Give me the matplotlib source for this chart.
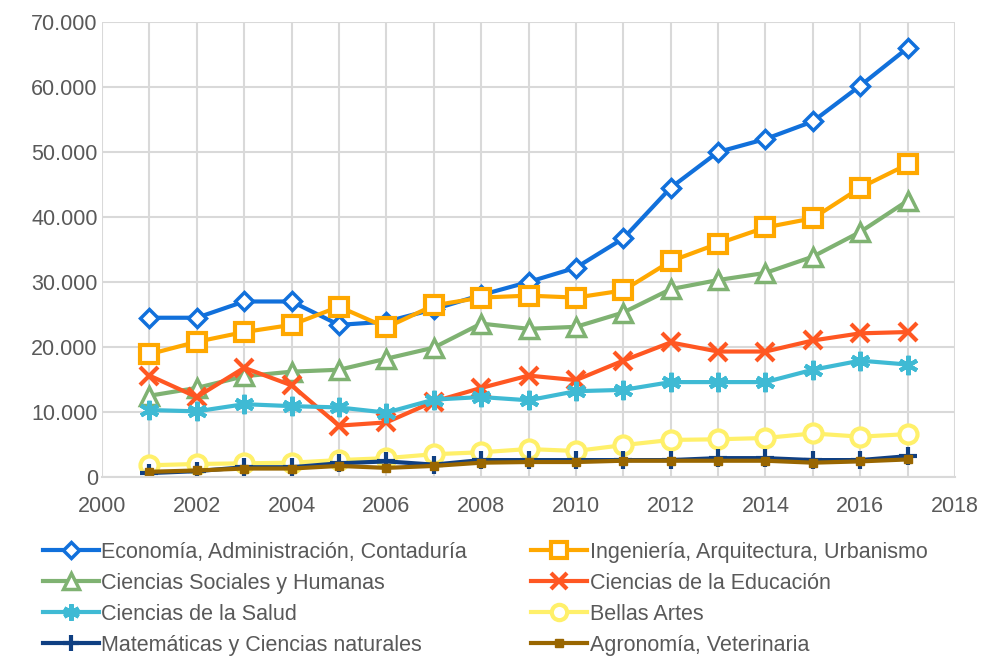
import matplotlib.pyplot as plt
from matplotlib.ticker import FuncFormatter, MultipleLocator

plt.rcParams['font.family'] = ['Liberation Sans', 'DejaVu Sans']

years = list(range(2001, 2018))

economia = [24500, 24500, 27000, 27000, 23400, 23900, 25800, 28000, 30000, 32200,
            36700, 44500, 50000, 52000, 54700, 60200, 66000]
ingenieria = [18900, 20800, 22300, 23400, 26200, 23000, 26400, 27600, 27900, 27600,
              28700, 33200, 35900, 38400, 39800, 44500, 48100]
sociales = [12500, 13700, 15500, 16200, 16500, 18200, 19900, 23600, 22800, 23100,
            25300, 28900, 30300, 31400, 33900, 37700, 42500]
educacion = [15600, 12300, 16800, 14100, 7900, 8400, 11600, 13700, 15600, 14900,
             17900, 20700, 19300, 19300, 21000, 22100, 22300]
salud = [10300, 10100, 11200, 10900, 10700, 9900, 11900, 12300, 11800, 13200,
         13400, 14600, 14600, 14600, 16500, 17900, 17300]
bellas = [1800, 2000, 2100, 2200, 2600, 2900, 3500, 3800, 4300, 4000,
          4900, 5700, 5800, 6000, 6700, 6200, 6600]
matematicas = [600, 900, 1500, 1500, 2100, 2400, 1900, 2600, 2600, 2600,
               2600, 2600, 2900, 2900, 2600, 2600, 3200]
agronomia = [800, 1000, 1300, 1300, 1700, 1400, 1700, 2200, 2300, 2300,
             2500, 2500, 2500, 2500, 2200, 2400, 2700]

fig = plt.figure(figsize=(9.81, 6.57), dpi=100)
ax = fig.add_axes([0.104, 0.274, 0.8695, 0.6925])

lw = 3
h = {}
h['eco'], = ax.plot(years, economia, color='#1170DB', lw=lw, marker='D', ms=9,
                    mfc='white', mew=2.5, label='Economía, Administración, Contaduría')
h['ing'], = ax.plot(years, ingenieria, color='#FFA800', lw=lw, marker='s', ms=13,
                    mfc='white', mew=3, label='Ingeniería, Arquitectura, Urbanismo')
h['soc'], = ax.plot(years, sociales, color='#7FB272', lw=lw, marker='^', ms=13,
                    mfc='white', mew=2.5, label='Ciencias Sociales y Humanas')
h['edu'], = ax.plot(years, educacion, color='#FF5722', lw=lw, marker='x', ms=13,
                    mew=3, label='Ciencias de la Educación')
h['sal'], = ax.plot(years, salud, color='#3FBAD4', lw=lw, marker=(6, 2, 0), ms=14,
                    mew=3, label='Ciencias de la Salud')
h['bel'], = ax.plot(years, bellas, color='#FFF06A', lw=lw, marker='o', ms=13,
                    mfc='white', mew=3, label='Bellas Artes')
h['mat'], = ax.plot(years, matematicas, color='#0F3F82', lw=lw, marker='+', ms=13,
                    mew=3, label='Matemáticas y Ciencias naturales')
h['agr'], = ax.plot(years, agronomia, color='#996600', lw=lw, marker='s', ms=6,
                    label='Agronomía, Veterinaria')

ax.set_xlim(2000, 2018)
ax.set_ylim(0, 70000)
ax.xaxis.set_major_locator(MultipleLocator(2))
ax.xaxis.set_minor_locator(MultipleLocator(1))
ax.yaxis.set_major_locator(MultipleLocator(10000))
ax.yaxis.set_major_formatter(FuncFormatter(lambda v, p: f'{int(v):,}'.replace(',', '.')))
ax.grid(True, which='both', color='#D9D9D9', lw=1.5)
ax.set_axisbelow(True)
for s in ['top', 'right', 'left']:
    ax.spines[s].set_visible(False)
ax.spines['bottom'].set_color('#D9D9D9')
ax.spines['bottom'].set_linewidth(1.5)
ax.tick_params(which='both', length=0, labelsize=15.5, labelcolor='#595959')
ax.tick_params(axis='y', pad=3)
ax.tick_params(axis='x', pad=14)

order = ['eco', 'soc', 'sal', 'mat', 'ing', 'edu', 'bel', 'agr']
fig.legend([h[k] for k in order], [h[k].get_label() for k in order],
           loc='lower left', bbox_to_anchor=(0.024, -0.028), ncol=2, frameon=False,
           fontsize=15.5, labelcolor='#595959', handlelength=2.6, handletextpad=0.1,
           columnspacing=3.0, labelspacing=0.47, markerscale=0.85)

fig.savefig('out.png', dpi=100)
